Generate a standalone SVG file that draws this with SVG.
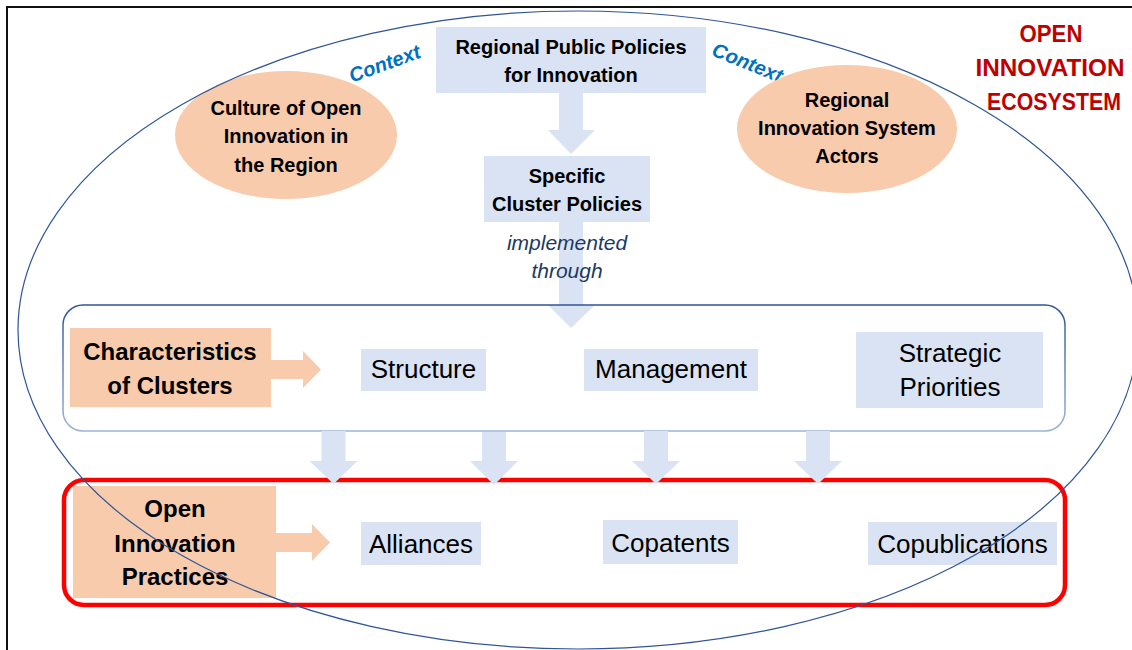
<svg xmlns="http://www.w3.org/2000/svg" width="1132" height="650" viewBox="0 0 1132 650">
<defs>
<linearGradient id="cg" x1="0" y1="0" x2="0" y2="1">
<stop offset="0" stop-color="#2F5597"/>
<stop offset="1" stop-color="#9DB3D9"/>
</linearGradient>
</defs>
<style>
.t{font-family:"Liberation Sans",Arial,sans-serif;fill:#000;text-anchor:middle}
.b{font-weight:bold}
.s20{font-size:20px}
.s23{font-size:24px}
.s25{font-size:26px}
.blue{fill:#DAE3F3}
.orange{fill:#F8CBAD}
.ctx{font-family:"Liberation Sans",Arial,sans-serif;font-weight:bold;font-style:italic;fill:#0070C0;font-size:20px;text-anchor:middle}
.impl{font-family:"Liberation Sans",Arial,sans-serif;font-style:italic;fill:#203864;font-size:21px;text-anchor:middle}
.title{font-family:"Liberation Sans",Arial,sans-serif;font-weight:bold;fill:#C00000;font-size:24px;text-anchor:middle}
</style>
<rect width="1132" height="650" fill="#fff"/>
<path d="M7 650 V7 H1132" fill="none" stroke="#111" stroke-width="2"/>

<g id="title">
<text class="title" x="1051" y="42" textLength="63" lengthAdjust="spacingAndGlyphs">OPEN</text>
<text class="title" x="1050" y="76" textLength="149" lengthAdjust="spacingAndGlyphs">INNOVATION</text>
<text class="title" x="1054" y="110" textLength="134" lengthAdjust="spacingAndGlyphs">ECOSYSTEM</text>
</g>

<g id="context-labels">
<text class="ctx" transform="translate(387,70) rotate(-20)">Context</text>
<text class="ctx" transform="translate(745,69) rotate(22)">Context</text>
</g>

<g id="culture">
<ellipse class="orange" cx="286" cy="135" rx="111" ry="64"/>
<text class="t b s20" x="286" y="115">Culture of Open</text>
<text class="t b s20" x="286" y="143">Innovation in</text>
<text class="t b s20" x="286" y="172">the Region</text>
</g>

<g id="actors">
<ellipse class="orange" cx="847" cy="129" rx="110" ry="64"/>
<text class="t b s20" x="847" y="107">Regional</text>
<text class="t b s20" x="847" y="135">Innovation System</text>
<text class="t b s20" x="847" y="163">Actors</text>
</g>

<g id="connectors">
<polygon class="blue" points="559,93 583,93 583,130 595,130 571,154 548,130 559,130"/>
<polygon class="blue" points="559,222 583,222 583,305 595,305 571,328 548,305 559,305"/>
<polygon class="orange" points="271,360 303,360 303,351 321,369.5 303,388 303,379 271,379"/>
<polygon class="orange" points="276,533 312,533 312,524 330,542.5 312,561 312,552 276,552"/>
</g>

<g id="regional-policies">
<rect class="blue" x="436" y="27" width="270" height="66"/>
<text class="t b s20" x="571" y="54">Regional Public Policies</text>
<text class="t b s20" x="571" y="82">for Innovation</text>
</g>

<g id="cluster-policies">
<rect class="blue" x="484" y="156" width="166" height="66"/>
<text class="t b s20" x="567" y="183">Specific</text>
<text class="t b s20" x="567" y="211">Cluster Policies</text>
</g>

<g id="implemented">
<text class="impl" x="567" y="250">implemented</text>
<text class="impl" x="567" y="278">through</text>
</g>

<g id="characteristics-container">
<rect x="63" y="305" width="1002" height="126" rx="20" fill="none" stroke="url(#cg)" stroke-width="1.5"/>
</g>

<g id="characteristics">
<rect class="orange" x="70" y="328" width="201" height="79"/>
<text class="t b s23" x="170" y="360">Characteristics</text>
<text class="t b s23" x="170" y="394">of Clusters</text>
</g>

<g id="structure">
<rect class="blue" x="361" y="349" width="125" height="42"/>
<text class="t s25" x="423.5" y="378">Structure</text>
</g>

<g id="management">
<rect class="blue" x="584" y="349" width="174" height="42"/>
<text class="t s25" x="671" y="378">Management</text>
</g>

<g id="strategic">
<rect class="blue" x="856" y="332" width="187" height="76"/>
<text class="t s25" x="950" y="362">Strategic</text>
<text class="t s25" x="950" y="396">Priorities</text>
</g>

<g id="practices-container">
<rect x="64" y="480" width="1001" height="125" rx="20" fill="none" stroke="#FF0000" stroke-width="4.5"/>
</g>

<g id="down-arrows">
<polygon class="blue" points="321.5,431 345.5,431 345.5,461 357.5,461 333.5,484 309.5,461 321.5,461"/>
<polygon class="blue" points="482,432 506,432 506,461 518,461 494,485 470,461 482,461"/>
<polygon class="blue" points="644,431 668,431 668,461 680,461 656,484 632,461 644,461"/>
<polygon class="blue" points="806,431 830,431 830,461 842,461 818,484 794,461 806,461"/>
</g>

<g id="oi-practices">
<rect class="orange" x="73" y="486" width="203" height="112"/>
<text class="t b s23" x="175" y="517">Open</text>
<text class="t b s23" x="175" y="552">Innovation</text>
<text class="t b s23" x="175" y="585">Practices</text>
</g>

<g id="alliances">
<rect class="blue" x="361" y="522" width="120" height="43"/>
<text class="t s25" x="421" y="553">Alliances</text>
</g>

<g id="copatents">
<rect class="blue" x="603" y="520" width="135" height="44"/>
<text class="t s25" x="670.5" y="552">Copatents</text>
</g>

<g id="copublications">
<rect class="blue" x="868" y="522" width="189" height="43"/>
<text class="t s25" x="962.5" y="553">Copublications</text>
</g>

<g id="ecosystem">
<ellipse cx="578" cy="330" rx="560" ry="319" fill="none" stroke="#2F5597" stroke-width="1.2"/>
</g>
</svg>
